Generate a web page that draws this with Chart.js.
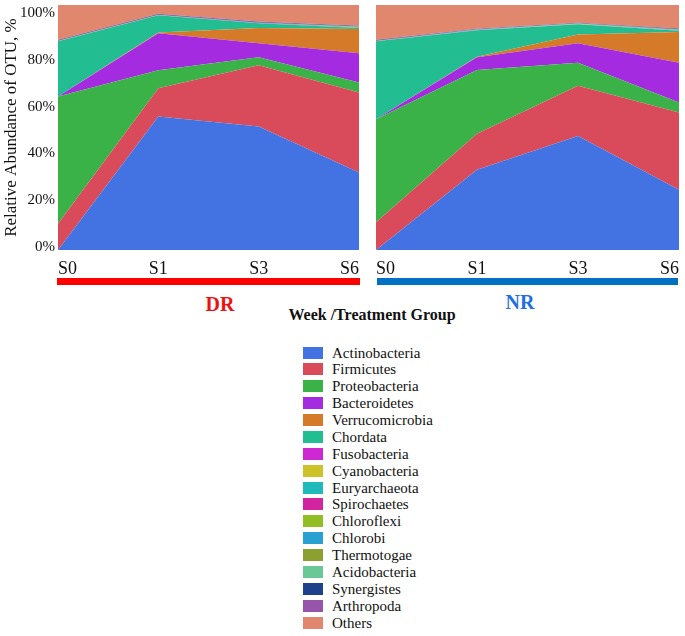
<!DOCTYPE html>
<html>
<head>
<meta charset="utf-8">
<script src="https://cdn.jsdelivr.net/npm/chart.js@4/dist/chart.umd.min.js"></script>
<style>
  body { margin: 0; background: #fff; font-family: "Liberation Serif", "Times New Roman", serif; }
  #wrap { position: relative; width: 685px; height: 636px; overflow: hidden; }
  canvas { position: absolute; top: 0; }
  .bar { position: absolute; height: 7px; }
  .lbl { position: absolute; text-align: center; font-weight: bold; white-space: nowrap; }
  .item { position: absolute; left: 303px; height: 17px; font-size: 15px; line-height: 17px; color: #111; white-space: nowrap; }
  .item span { display: inline-block; width: 20px; height: 12px; vertical-align: -1px; margin-right: 9px; }
</style>
</head>
<body>
<div id="wrap">
  <canvas id="chartDR" width="362" height="280" style="left:0"></canvas>
  <canvas id="chartNR" width="323" height="280" style="left:362px"></canvas>
  <div class="bar" style="left:57px;top:278px;width:303px;background:#ff0000"></div>
  <div class="bar" style="left:377px;top:278px;width:301px;background:#0070c0"></div>
  <div class="lbl" style="left:170px;top:292px;width:100px;line-height:24px;font-size:20px;color:#ee1111">DR</div>
  <div class="lbl" style="left:470px;top:290px;width:100px;line-height:24px;font-size:20px;color:#1f6fe0">NR</div>
  <div class="lbl" style="left:222px;top:305px;width:300px;line-height:20px;font-size:16px;color:#111">Week /Treatment Group</div>
  <div id="legend"></div>
</div>
<script>
// data (relative abundance, %)
const weeks = ['S0', 'S1', 'S3', 'S6'];
const yTicks = [0, 20, 40, 60, 80, 100];

const phyla = ['Actinobacteria', 'Firmicutes', 'Proteobacteria', 'Bacteroidetes', 'Verrucomicrobia',
  'Chordata', 'Fusobacteria', 'Cyanobacteria', 'Euryarchaeota', 'Spirochaetes', 'Chloroflexi',
  'Chlorobi', 'Thermotogae', 'Acidobacteria', 'Synergistes', 'Arthropoda', 'Others'];

const colors = ['#4373e2', '#d94b5a', '#3ab248', '#a52be1', '#d57a28', '#22be91', '#cd28d2',
  '#cdc328', '#20b9b9', '#d223a0', '#91be23', '#28a0d2', '#8ca032', '#69c896', '#1e418c',
  '#9655aa', '#e1876e'];

// DR group
const drActino = [0, 54.5, 50.4, 31.6];
const drFirmi = [10.7, 11.5, 25.0, 32.7];
const drProteo = [52.0, 7.4, 3.3, 4.1];
const drBactero = [0, 15.1, 5.7, 11.9];
const drVerruco = [0, 0.3, 6.2, 9.9];
const drChordata = [22.5, 7.0, 2.0, 0.4];
// NR group
const nrActino = [0, 32.8, 46.5, 24.6];
const nrFirmi = [11.3, 14.7, 20.5, 31.5];
const nrProteo = [42.1, 26.0, 9.4, 4.1];
const nrBactero = [0, 5.2, 8.0, 16.2];
const nrVerruco = [0, 0.2, 3.6, 12.6];
const nrChordata = [31.8, 10.8, 4.1, 0.5];
// minor phyla (same small amounts in both groups)
const fuso = [0.05, 0.05, 0.05, 0.1];
const cyano = [0.05, 0.05, 0.05, 0.1];
const eury = [0.05, 0.05, 0.1, 0.2];
const spiro = [0.02, 0.02, 0.02, 0.05];
const chloroflexi = [0.02, 0.02, 0.02, 0.05];
const chlorobi = [0.02, 0.02, 0.02, 0.05];
const thermo = [0.02, 0.02, 0.02, 0.05];
const acido = [0.02, 0.02, 0.02, 0.05];
const synerg = [0.2, 0.2, 0.2, 0.2];
const arthro = [0.2, 0.2, 0.2, 0.1];
const drOthers = [14.1, 3.6, 6.7, 8.4];
const nrOthers = [14.1, 9.7, 7.2, 9.5];

const minor = [fuso, cyano, eury, spiro, chloroflexi, chlorobi, thermo, acido, synerg, arthro];
const drSeries = [drActino, drFirmi, drProteo, drBactero, drVerruco, drChordata, ...minor, drOthers];
const nrSeries = [nrActino, nrFirmi, nrProteo, nrBactero, nrVerruco, nrChordata, ...minor, nrOthers];

const serif = '"Liberation Serif", "Times New Roman", serif';

function makeDatasets(series) {
  return series.map((vals, i) => ({
    label: phyla[i],
    data: vals,
    backgroundColor: colors[i],
    borderColor: colors[i],
    borderWidth: 0,
    pointRadius: 0,
    tension: 0,
    fill: i === 0 ? 'origin' : '-1',
  }));
}

// no extra room for overflowing tick labels, the plot box is fixed by layout padding
function noPad(s) {
  s.paddingTop = 0;
  s.paddingBottom = 0;
  s.paddingLeft = 0;
  s.paddingRight = 0;
}

function xAxis() {
  return {
    type: 'category',
    offset: false,
    grid: { display: false, drawTicks: false },
    border: { display: false },
    ticks: { align: 'inner', padding: 8, color: '#111', maxRotation: 0, autoSkip: false,
      font: { family: serif, size: 18 } },
    afterFit: (s) => { s.height = 26; noPad(s); },
  };
}

const baseOpts = {
  responsive: false,
  animation: false,
  devicePixelRatio: 1,
  plugins: { legend: { display: false }, tooltip: { enabled: false } },
};

//LEFT PANEL (DR) - carries the y axis
new Chart(document.getElementById('chartDR'), {
  type: 'line',
  data: { labels: weeks, datasets: makeDatasets(drSeries) },
  options: {
    ...baseOpts,
    layout: { padding: { top: 5, right: 3, bottom: 4, left: 0 } },
    scales: {
      x: xAxis(),
      y: { display: false, stacked: true, min: 0, max: 100 },
      // label axis, positioned like the original figure's tick labels
      yl: {
        position: 'left',
        min: -1.29,
        max: 103.43,
        grid: { display: false, drawTicks: false },
        border: { display: false },
        afterBuildTicks: (s) => { s.ticks = yTicks.map((v) => ({ value: v })); },
        ticks: { padding: 3, color: '#111', font: { family: serif, size: 15 }, callback: (v) => v + '%' },
        title: { display: true, text: 'Relative Abundance of OTU, %', color: '#111',
          font: { family: serif, size: 17 }, padding: { top: 1, bottom: 0 } },
        afterFit: (s) => { s.width = 58; noPad(s); },
      },
    },
  },
});

//RIGHT PANEL (NR)
new Chart(document.getElementById('chartNR'), {
  type: 'line',
  data: { labels: weeks, datasets: makeDatasets(nrSeries) },
  options: {
    ...baseOpts,
    layout: { padding: { top: 5, right: 6, bottom: 4, left: 14 } },
    scales: {
      x: xAxis(),
      y: { display: false, stacked: true, min: 0, max: 100 },
    },
  },
});

//LEGEND
const legend = document.getElementById('legend');
phyla.forEach((name, i) => {
  let row = document.createElement('div');
  row.className = 'item';
  row.style.top = (344.5 + i * 16.875) + 'px';
  row.innerHTML = '<span style="background:' + colors[i] + '"></span>' + name;
  legend.appendChild(row);
});
</script>
</body>
</html>
